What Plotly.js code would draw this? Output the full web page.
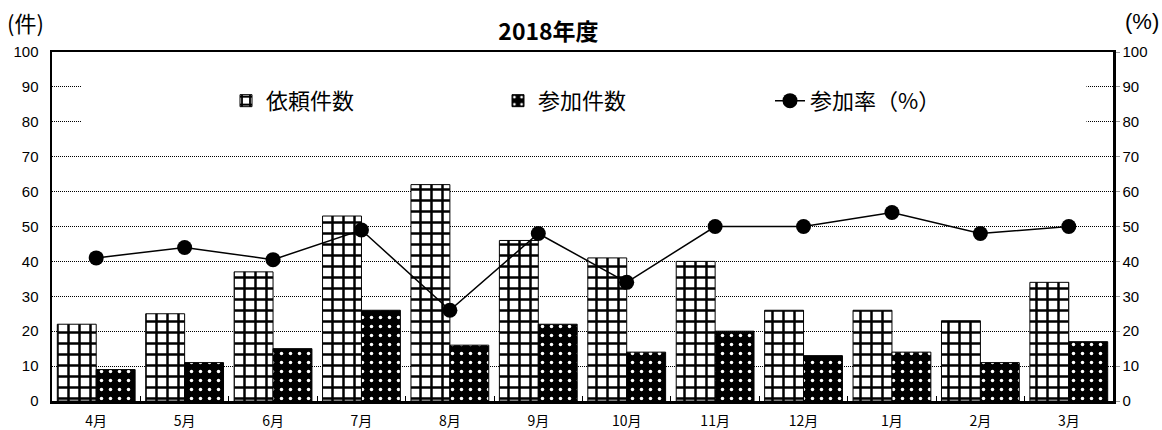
<!DOCTYPE html>
<html><head><meta charset="utf-8">
<script src="https://cdn.plot.ly/plotly-3.0.1.min.js"></script>
<style>body{margin:0;background:#fff}#c{width:1162px;height:430px}</style>
</head><body><div id="c"></div>
<script>
var months = ['4月','5月','6月','7月','8月','9月','10月','11月','12月','1月','2月','3月'];
var requests = [22,25,37,53,62,46,41,40,26,26,23,34];
var participations = [9,11,15,26,16,22,14,20,13,14,11,17];
var rate = [41,44,40.5,49,26,48,34,50,50,54,48,50];
var yTicks = [0,10,20,30,40,50,60,70,80,90,100];

var F = 'Liberation Sans, Noto Sans CJK JP, sans-serif';
var FJ = 'Noto Sans CJK JP, sans-serif';

var traces = [
 {type:'bar', name:'依頼件数', x:months, y:requests,
  marker:{color:'white', line:{color:'black', width:1},
   pattern:{shape:'+', fgcolor:'black', bgcolor:'white', size:11, solidity:0.4, fillmode:'replace'}}},
 {type:'bar', name:'参加件数', x:months, y:participations,
  marker:{color:'black', line:{color:'black', width:1},
   pattern:{shape:'.', fgcolor:'white', bgcolor:'black', size:9, solidity:0.12, fillmode:'replace'}}},
 {type:'scatter', mode:'lines+markers', name:'参加率（%）', x:months, y:rate, yaxis:'y2',
  line:{color:'black', width:1.5}, marker:{color:'black', size:15}}
];

var layout = {
 width:1162, height:430,
 margin:{l:52, r:49, t:52, b:29},
 paper_bgcolor:'white', plot_bgcolor:'white',
 bargap:0.12, bargroupgap:0,
 showlegend:true,
 title:{text:'<b>2018年度</b>', font:{family:FJ, size:23, color:'black'}, x:0.472, xanchor:'center', y:0.925, yanchor:'middle'},
 font:{family:F, color:'black'},
 xaxis:{type:'category', range:[-0.5,11.5], tickfont:{family:FJ, size:14}, showline:true, linecolor:'black', linewidth:2.5, mirror:true,
   ticks:'inside', tickson:'boundaries', ticklen:5, tickcolor:'black', showgrid:false, fixedrange:true, ticklabelstandoff:6},
 yaxis:{range:[0,100], tickvals:yTicks, ticktext:yTicks.map(String), tickfont:{family:F, size:15},
   showgrid:true, gridcolor:'black', griddash:'1px,1px', gridwidth:1, showline:true, linecolor:'black', linewidth:2.5,
   ticks:'', zeroline:false, ticklabelstandoff:8},
 yaxis2:{range:[0,100], tickvals:yTicks, ticktext:yTicks.map(String), tickfont:{family:F, size:15}, overlaying:'y', side:'right',
   showgrid:false, showline:true, linecolor:'black', linewidth:2.5, ticks:'outside', ticklen:4, tickcolor:'#999', zeroline:false},
 legend:{orientation:'h', x:0.164, xanchor:'left', y:0.86, yanchor:'middle', bgcolor:'rgba(0,0,0,0)',
   font:{family:FJ, size:22}, entrywidth:227, entrywidthmode:'pixels', itemwidth:30, traceorder:'normal'},
 shapes:[{type:'rect', xref:'paper', yref:'y', x0:0.028, x1:0.975, y0:75, y1:95, fillcolor:'white', line:{width:0}, layer:'above'}],
 annotations:[
  {text:'(件)', xref:'paper', yref:'paper', x:-0.044, y:1.086, xanchor:'left', yanchor:'middle', showarrow:false, font:{family:FJ, size:22}},
  {text:'(%)', xref:'paper', yref:'paper', x:1.045, y:1.086, xanchor:'right', yanchor:'middle', showarrow:false, font:{family:F, size:22}, align:'right'}
 ]
};
Plotly.newPlot('c', traces, layout, {displayModeBar:false, staticPlot:true});
</script></body></html>
